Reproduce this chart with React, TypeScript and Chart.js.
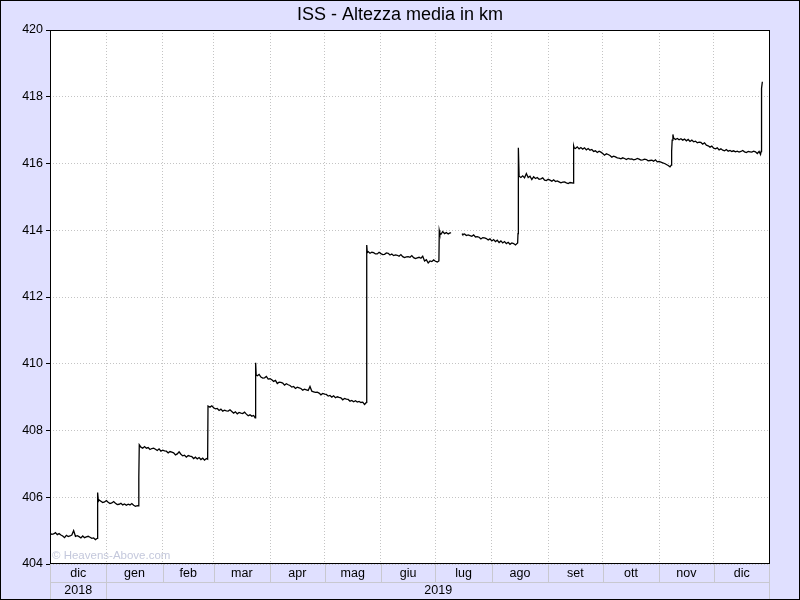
import React, { useEffect, useRef } from "react";
import { Chart, registerables } from "chart.js";

Chart.register(...registerables);

const TITLE = "ISS - Altezza media in km";
const WATERMARK = "© Heavens-Above.com";

// x axis: days counted from 1 Dec 2018
const monthLabels = ["dic", "gen", "feb", "mar", "apr", "mag", "giu", "lug", "ago", "set", "ott", "nov", "dic"];
const monthStartDays = [0, 31, 62, 90, 121, 151, 182, 212, 243, 274, 304, 335, 365, 396];
const yearLabels = ["2018", "2019"];
const yearStartDays = [0, 31, 396];

const yMin = 404;
const yMax = 420;
const yStep = 2;

// [day, mean altitude km]
const decJanReadings: [number, number | null][] = [
  [0, 404.92], [1, 404.89], [2, 404.90], [3, 404.94], [4, 404.88], [5, 404.91], [6, 404.87], [7, 404.84], [8, 404.79], [9, 404.86],
  [10, 404.82], [11, 404.84], [12, 404.87], [13, 405.00], [14, 404.83], [15, 404.85], [16, 404.82], [17, 404.78], [18, 404.84],
  [19, 404.79], [20, 404.81], [21, 404.83], [22, 404.80], [23, 404.77], [24, 404.78], [25, 404.73], [26, 404.77],
  [26.2, 406.14], [26.6, 405.88],
  [27, 405.92], [28, 405.88], [29, 405.84], [30, 405.86], [31, 405.90], [32, 405.85], [33, 405.81], [34, 405.83], [35, 405.87],
  [36, 405.82], [37, 405.78], [38, 405.79], [39, 405.82], [40, 405.77], [41, 405.80], [42, 405.76], [43, 405.79], [44, 405.77],
  [45, 405.81], [46, 405.76], [47, 405.73], [48, 405.75], [48.6, 405.74], [48.8, 406.40], [48.9, 406.60], [49.1, 407.57],
];

const febMarReadings: [number, number | null][] = [
  [50, 407.50], [51, 407.47], [52, 407.52], [53, 407.47], [54, 407.49], [55, 407.43], [56, 407.46], [57, 407.47], [58, 407.44],
  [59, 407.40], [60, 407.45], [61, 407.38], [62, 407.41], [63, 407.39], [64, 407.38], [65, 407.33], [66, 407.37], [67, 407.35],
  [68, 407.33], [69, 407.27], [70, 407.30], [71, 407.36], [72, 407.29], [73, 407.24], [74, 407.26], [75, 407.20], [76, 407.25],
  [77, 407.23], [78, 407.22], [79, 407.16], [80, 407.20], [81, 407.15], [82, 407.19], [83, 407.13], [84, 407.17],
  [85, 407.11], [86, 407.16], [86.7, 407.14], [86.9, 408.73],
  [88, 408.70], [89, 408.74], [90, 408.68], [91, 408.65], [92, 408.66], [93, 408.60], [94, 408.64], [95, 408.58], [96, 408.61],
  [97, 408.59], [98, 408.58], [99, 408.62], [100, 408.57], [101, 408.52], [102, 408.56], [103, 408.50], [104, 408.54],
  [105, 408.52], [106, 408.51], [107, 408.55], [108, 408.49], [109, 408.44], [110, 408.47], [111, 408.43], [112, 408.45],
  [112.8, 408.38], [113.1, 410.03], [113.4, 409.66],
];

const aprMayReadings: [number, number | null][] = [
  [114, 409.64], [115, 409.68], [116, 409.60], [117, 409.57], [118, 409.58], [119, 409.62], [120, 409.54], [121, 409.55],
  [122, 409.52], [123, 409.47], [124, 409.50], [125, 409.41], [126, 409.45], [127, 409.44], [128, 409.42], [129, 409.36],
  [130, 409.40], [131, 409.37], [132, 409.35], [133, 409.30], [134, 409.32], [135, 409.26], [136, 409.30], [137, 409.28],
  [138, 409.26], [139, 409.21], [140, 409.24], [141, 409.22], [142, 409.20], [143, 409.32], [144, 409.18], [145, 409.16],
  [146, 409.14], [147, 409.15], [148, 409.12], [149, 409.07], [150, 409.11], [151, 409.09], [152, 409.08], [153, 409.03],
  [154, 409.05], [155, 409.00], [156, 409.04], [157, 408.98], [158, 409.01], [159, 408.99], [160, 408.98], [161, 408.92],
  [162, 408.96], [163, 408.94], [164, 408.93], [165, 408.88], [166, 408.90], [167, 408.86], [168, 408.89], [169, 408.85],
  [170, 408.87], [171, 408.84], [172, 408.85], [173, 408.78], [174, 408.84], [174.2, 413.56], [174.5, 413.33],
];

const junJulReadings: [number, number | null][] = [
  [175, 413.36], [176, 413.31], [177, 413.34], [178, 413.33], [179, 413.29], [180, 413.29], [181, 413.34], [182, 413.30],
  [183, 413.27], [184, 413.28], [185, 413.32], [186, 413.31], [187, 413.26], [188, 413.29], [189, 413.24], [190, 413.26],
  [191, 413.25], [192, 413.22], [193, 413.27], [194, 413.21], [195, 413.18], [196, 413.20], [197, 413.21], [198, 413.19],
  [199, 413.24], [200, 413.18], [201, 413.15], [202, 413.17], [203, 413.19], [204, 413.16], [205, 413.22], [206, 413.08],
  [207, 413.12], [208, 413.02], [209, 413.08], [210, 413.06], [211, 413.11], [212, 413.07], [213, 413.05], [213.9, 413.08],
  [214.1, 413.99], [214.4, 413.91],
  [215, 413.88], [216, 413.96], [217, 413.90], [218, 413.93], [219, 413.89], [220, 413.92], [220.6, 413.92],
  [223, null],
];

const julSepReadings: [number, number | null][] = [
  [226.6, 413.90], [227, 413.87], [228, 413.89], [229, 413.84], [230, 413.86], [231, 413.84], [232, 413.82], [233, 413.86],
  [234, 413.80], [235, 413.81], [236, 413.79], [237, 413.74], [238, 413.78], [239, 413.77], [240, 413.75], [241, 413.71],
  [242, 413.74], [243, 413.68], [244, 413.72], [245, 413.66], [246, 413.70], [247, 413.63], [248, 413.68], [249, 413.62],
  [250, 413.66], [251, 413.60], [252, 413.64], [253, 413.58], [254, 413.62], [255, 413.60], [256, 413.56],
  [257.2, 413.62], [257.4, 413.90], [257.6, 416.47], [258, 415.62],
  [259, 415.58], [260, 415.63], [261, 415.57], [262, 415.70], [263, 415.58], [264, 415.62], [265, 415.52],
  [266, 415.60], [267, 415.55], [268, 415.58], [269, 415.53], [270, 415.54], [271, 415.57], [272, 415.50], [273, 415.49],
  [274, 415.53], [275, 415.50], [276, 415.47], [277, 415.51], [278, 415.46], [279, 415.48], [280, 415.45], [281, 415.42],
  [282, 415.44], [283, 415.45], [284, 415.42], [285, 415.40], [286, 415.43], [287.8, 415.41], [288, 416.53], [288.3, 416.47],
];

const sepNovReadings: [number, number | null][] = [
  [289, 416.45], [290, 416.50], [291, 416.44], [292, 416.48], [293, 416.43], [294, 416.47], [295, 416.41],
  [296, 416.45], [297, 416.40], [298, 416.42], [299, 416.36], [300, 416.38], [301, 416.33], [302, 416.37], [303, 416.34],
  [304, 416.30], [305, 416.25], [306, 416.29], [307, 416.27], [308, 416.24], [309, 416.19], [310, 416.22], [311, 416.20],
  [312, 416.17], [313, 416.16], [314, 416.14], [315, 416.17], [316, 416.15], [317, 416.12], [318, 416.15], [319, 416.13],
  [320, 416.14], [321, 416.11], [322, 416.12], [323, 416.15], [324, 416.13], [325, 416.10], [326, 416.11], [327, 416.13],
  [328, 416.12], [329, 416.08], [330, 416.09], [331, 416.10], [332, 416.07], [333, 416.11], [334, 416.05], [335, 416.06],
  [336, 416.04], [337, 416.02], [338, 416.00], [339, 415.97], [340, 415.94], [341, 415.90], [341.7, 415.95], [341.9, 416.37],
  [342.2, 416.70], [342.6, 416.87], [343, 416.76],
];

const novDecReadings: [number, number | null][] = [
  [344, 416.72], [345, 416.75], [346, 416.71], [347, 416.74], [348, 416.70], [349, 416.73], [350, 416.68],
  [351, 416.72], [352, 416.66], [353, 416.70], [354, 416.65], [355, 416.67], [356, 416.62], [357, 416.64], [358, 416.63],
  [359, 416.58], [360, 416.62], [361, 416.55], [362, 416.53], [363, 416.49], [364, 416.52], [365, 416.46],
  [366, 416.44], [367, 416.47], [368, 416.41], [369, 416.44], [370, 416.40], [371, 416.38], [372, 416.42], [373, 416.37],
  [374, 416.39], [375, 416.36], [376, 416.38], [377, 416.35], [378, 416.37], [379, 416.34], [380, 416.36], [381, 416.39],
  [382, 416.35], [383, 416.33], [384, 416.36], [385, 416.35], [386, 416.34], [387, 416.37], [388, 416.35], [389, 416.30],
  [390, 416.36], [390.8, 416.27], [391.1, 416.36], [391.2, 418.10], [391.5, 418.25], [391.8, 418.45],
];

const allReadings = [
  ...decJanReadings, ...febMarReadings, ...aprMayReadings, ...junJulReadings,
  ...julSepReadings, ...sepNovReadings, ...novDecReadings,
];

const FONT = '"Liberation Sans", Arial, Helvetica, sans-serif';
const BG = "#E0E0FF";
const GRID = "#c4c4c4";
const CELL_LINE = "#c8c8d0";

export default function App() {
  const canvasRef = useRef<HTMLCanvasElement | null>(null);

  useEffect(() => {
    const canvas = canvasRef.current;
    if (!canvas) return;

    const framePlugin = {
      id: "frame",
      beforeDraw(chart: any) {
        const { ctx, chartArea } = chart;
        ctx.save();
        ctx.fillStyle = BG;
        ctx.fillRect(0, 0, chart.width, chart.height);
        ctx.fillStyle = "#ffffff";
        ctx.fillRect(chartArea.left, chartArea.top, chartArea.right - chartArea.left, chartArea.bottom - chartArea.top);
        // watermark
        ctx.fillStyle = "#c4c8dc";
        ctx.font = `11.5px ${FONT}`;
        ctx.textAlign = "left";
        ctx.textBaseline = "middle";
        ctx.fillText(WATERMARK, chartArea.left + 2, chartArea.bottom - 8);
        ctx.restore();
      },
      afterDraw(chart: any) {
        const { ctx, chartArea } = chart;
        const xs = chart.scales.x;
        const L = chartArea.left;
        const R = chartArea.right;
        const B = chartArea.bottom;
        ctx.save();
        // plot frame
        ctx.strokeStyle = "#000";
        ctx.lineWidth = 1;
        ctx.setLineDash([]);
        ctx.strokeRect(L + 0.5, chartArea.top + 0.5, R - L - 1, B - chartArea.top - 1);

        // title
        ctx.fillStyle = "#000";
        ctx.font = `18px ${FONT}`;
        ctx.textAlign = "center";
        ctx.textBaseline = "middle";
        ctx.fillText(TITLE, chart.width / 2, 15);

        // month row and year row
        const rowTop = B;
        const rowMid = B + 18;
        const rowBot = B + 35;
        ctx.strokeStyle = CELL_LINE;
        ctx.beginPath();
        ctx.moveTo(L, rowMid + 0.5);
        ctx.lineTo(R, rowMid + 0.5);
        ctx.moveTo(L + 0.5, rowTop);
        ctx.lineTo(L + 0.5, rowBot);
        ctx.moveTo(R - 0.5, rowTop);
        ctx.lineTo(R - 0.5, rowBot);
        for (let i = 1; i < monthStartDays.length - 1; i++) {
          const px = Math.round(xs.getPixelForValue(monthStartDays[i])) + 0.5;
          ctx.moveTo(px, rowTop);
          ctx.lineTo(px, rowMid);
        }
        for (let i = 1; i < yearStartDays.length - 1; i++) {
          const px = Math.round(xs.getPixelForValue(yearStartDays[i])) + 0.5;
          ctx.moveTo(px, rowMid);
          ctx.lineTo(px, rowBot);
        }
        ctx.stroke();

        ctx.fillStyle = "#000";
        ctx.font = `12.5px ${FONT}`;
        ctx.textAlign = "center";
        ctx.textBaseline = "middle";
        monthLabels.forEach((label, i) => {
          const a = xs.getPixelForValue(monthStartDays[i]);
          const b = xs.getPixelForValue(monthStartDays[i + 1]);
          ctx.fillText(label, (a + b) / 2, rowTop + 9.5);
        });
        yearLabels.forEach((label, i) => {
          const a = xs.getPixelForValue(yearStartDays[i]);
          const b = xs.getPixelForValue(yearStartDays[i + 1]);
          ctx.fillText(label, (a + b) / 2, rowMid + 9);
        });

        // outer border
        ctx.strokeStyle = "#000";
        ctx.strokeRect(0.5, 0.5, chart.width - 1, chart.height - 1);
        ctx.restore();
      },
    };

    const chart = new Chart(canvas, {
      type: "line",
      data: {
        datasets: [
          {
            data: allReadings.map(([x, y]) => ({ x, y })),
            borderColor: "#000",
            borderWidth: 1.3,
            pointRadius: 0,
            tension: 0,
            spanGaps: false,
            fill: false,
          },
        ],
      },
      options: {
        animation: false,
        responsive: false,
        events: [],
        layout: { padding: { top: 30, right: 30, left: 0, bottom: 0 } },
        plugins: {
          legend: { display: false },
          title: { display: false },
          tooltip: { enabled: false },
        },
        scales: {
          x: {
            type: "linear",
            min: monthStartDays[0],
            max: monthStartDays[monthStartDays.length - 1],
            afterBuildTicks: (scale: any) => {
              scale.ticks = monthStartDays.slice(1, -1).map((v) => ({ value: v }));
            },
            ticks: { display: false },
            grid: { color: GRID, drawTicks: false, lineWidth: 1 },
            border: { display: false, dash: [1, 2] },
            afterFit: (scale: any) => {
              scale.height = 36;
            },
          },
          y: {
            type: "linear",
            min: yMin,
            max: yMax,
            ticks: {
              stepSize: yStep,
              color: "#000",
              padding: 3,
              font: { family: FONT, size: 12.5 },
            },
            grid: {
              color: GRID,
              lineWidth: 1,
              drawTicks: true,
              tickLength: 4,
              tickColor: "#000",
              tickBorderDash: [],
            },
            border: { display: false, dash: [1, 2] },
            afterFit: (scale: any) => {
              scale.width = 50;
            },
          },
        },
      } as any,
      plugins: [framePlugin],
    });

    return () => chart.destroy();
  }, []);

  return (
    <div style={{ position: "absolute", left: 0, top: 0, width: 800, height: 600 }}>
      <canvas ref={canvasRef} width={800} height={600} style={{ display: "block", width: 800, height: 600 }} />
    </div>
  );
}
